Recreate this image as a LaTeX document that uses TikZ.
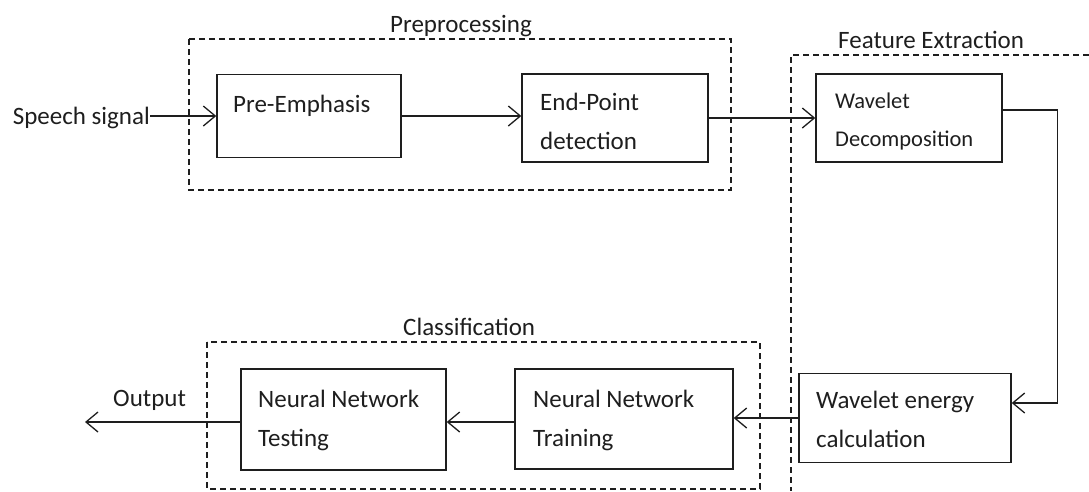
\documentclass[tikz,border=0pt]{standalone}
\usepackage{fontspec}
\setmainfont{Carlito}
\usetikzlibrary{arrows.meta}
\definecolor{ink}{HTML}{1E1E1E}
\begin{document}
\begin{tikzpicture}[x=1pt,y=-1pt,
  blk/.style={draw=ink, line width=1.4pt, inner sep=0pt, minimum width=#1},
  grp/.style={draw=ink, line width=1.2pt, dash pattern=on 6pt off 4pt},
  lbl/.style={font=\fontsize{25}{39}\selectfont, text=ink, inner sep=0pt, align=left, anchor=base west},
  small/.style={font=\fontsize{22.5}{38}\selectfont},
  arr/.style={draw=ink, line width=1.3pt, -{Straight Barb[length=12pt,width=20pt,line width=1.3pt]}}]
\useasboundingbox (0,0) rectangle (1089,491);

% stage groups
\draw[grp] (189,39) rectangle (731,190);
\draw[grp] (207,342) rectangle (760,489);
\draw[grp] (1089,55) -- (791,55) -- (791,491);
\node[lbl] (tpre) at (390,32) {Preprocessing};
\node[lbl] (tfeat) at (838,48) {Feature Extraction};
\node[lbl] (tcls) at (403,335) {Classification};

% processing blocks
\node[blk=184pt, minimum height=83pt] (pe) at (309,116) {};
\node[blk=186pt, minimum height=88pt] (ep) at (615,118) {};
\node[blk=186pt, minimum height=88pt] (wd) at (909,118) {};
\node[blk=212pt, minimum height=89pt] (we) at (905,418) {};
\node[blk=218pt, minimum height=100pt] (tr) at (624,419) {};
\node[blk=205pt, minimum height=101pt] (te) at (343.5,419.5) {};

% block texts (anchored at the baseline of the last line)
\node[lbl] (lpe) at (233,112) {Pre-Emphasis};
\node[lbl] (lep) at (540,149) {End-Point\\detection};
\node[lbl, small] (lwd) at (835,146) {Wavelet\\Decomposition};
\node[lbl] (lwe) at (816,447) {Wavelet energy\\calculation};
\node[lbl] (ltr) at (533,446) {Neural Network\\Training};
\node[lbl] (lte) at (258,446) {Neural Network\\Testing};

% input and output
\node[lbl, anchor=base east] (sig) at (150,124) {Speech signal};
\node[lbl] (lout) at (113,406) {Output};
\coordinate (outtip) at (85,422);

% signal flow
\draw[arr] (sig.east |- pe.west) -- (pe.west);
\draw[arr] (pe.east) -- (pe.east -| ep.west);
\draw[arr] (ep.east) -- (wd.west);
\draw[arr] ([yshift=8pt]wd.east) -- ++(55,0) |- ([yshift=15pt]we.east);
\draw[arr] (we.west) -- (we.west -| tr.east);
\draw[arr] ([yshift=-3pt]tr.west) -- ([yshift=-3pt]tr.west -| te.east);
\draw[arr] ([yshift=-2.5pt]te.west) -- (outtip);
\end{tikzpicture}
\end{document}
